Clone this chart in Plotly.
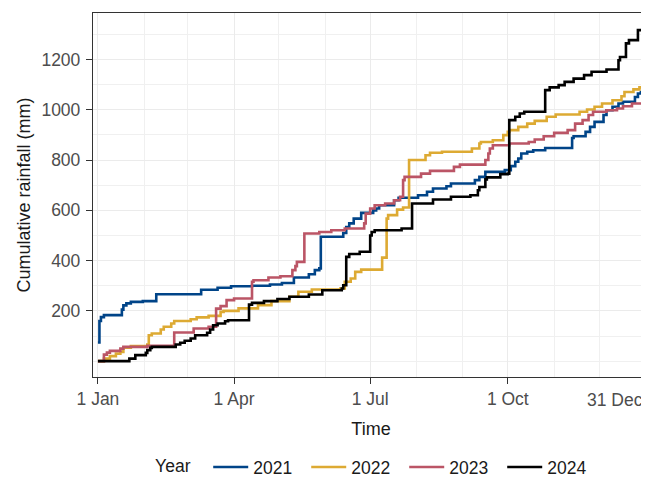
import pandas as pd
import plotly.graph_objects as go

# ---- data (day of year offset from 1 Jan, cumulative rainfall in mm) ----
years = ["2021", "2022", "2023", "2024"]
colors = ["#004488", "#DDAA33", "#BB5566", "#000000"]

day_2021 = [0, 1, 2, 4, 16, 17, 19, 22, 30, 39, 69, 80, 89, 103, 115, 123, 131, 141, 145, 148,
            149, 164, 166, 168, 171, 176, 184, 186, 188, 198, 201, 214, 220, 224, 233, 236, 252,
            255, 259, 272, 276, 279, 281, 283, 287, 291, 299, 317, 318, 326, 329, 332, 338, 340,
            344, 348, 351, 359, 361, 363, 365]
mm_2021 = [74, 160, 175, 183, 205, 222, 230, 236, 239, 266, 284, 292, 298, 300, 305, 311, 333, 346, 362, 369,
           495, 510, 534, 548, 567, 590, 600, 607, 620, 640, 650, 660, 674, 687, 696, 707, 720,
           733, 753, 760, 776, 793, 806, 826, 833, 839, 848, 888, 895, 912, 932, 952, 979, 998,
           1012, 1025, 1032, 1051, 1065, 1071, 1071]

day_2022 = [0, 4, 8, 12, 15, 17, 22, 33, 34, 36, 42, 44, 49, 51, 62, 66, 74, 82, 84, 94, 107, 116,
            128, 134, 143, 162, 165, 169, 172, 176, 190, 193, 194, 200, 204, 208, 219, 222, 230,
            250, 255, 256, 264, 271, 274, 275, 281, 287, 292, 300, 306, 322, 327, 332, 337, 344,
            350, 352, 358, 362, 365]
mm_2022 = [0, 10, 20, 30, 37, 54, 60, 66, 103, 110, 126, 137, 150, 160, 167, 174, 180, 196, 200, 210, 223, 239,
           256, 276, 285, 289, 316, 329, 355, 364, 412, 567, 581, 603, 611, 800, 819, 829, 833,
           846, 866, 872, 879, 899, 912, 919, 932, 945, 956, 972, 981, 992, 1001, 1012, 1025, 1038,
           1054, 1071, 1081, 1089, 1090]

day_2023 = [0, 4, 6, 8, 15, 17, 33, 51, 64, 74, 79, 82, 86, 91, 103, 104, 114, 122, 130, 132, 133,
            138, 148, 156, 165, 178, 179, 182, 185, 192, 198, 202, 204, 205, 216, 222, 238, 242,
            259, 261, 262, 264, 275, 288, 292, 298, 305, 314, 319, 324, 328, 331, 340, 347, 351,
            357, 365]
mm_2023 = [0, 26, 34, 41, 50, 57, 61, 114, 130, 137, 209, 219, 243, 249, 316, 322, 333, 338, 362, 378, 395,
           508, 514, 521, 528, 548, 587, 607, 620, 627, 640, 654, 720, 733, 746, 757, 773, 782,
           800, 826, 846, 859, 866, 872, 882, 895, 908, 919, 945, 959, 979, 992, 998, 1005, 1014,
           1025, 1025]

day_2024 = [0, 21, 25, 32, 33, 35, 36, 52, 55, 58, 62, 65, 73, 75, 77, 80, 85, 87, 101, 103, 111,
            120, 128, 141, 150, 163, 164, 166, 168, 175, 182, 183, 185, 203, 210, 224, 236, 249,
            254, 255, 259, 260, 269, 274, 275, 279, 282, 285, 299, 302, 308, 312, 318, 325, 330,
            340, 348, 349, 353, 355, 361, 364]
mm_2024 = [0, 10, 24, 33, 44, 53, 57, 66, 73, 81, 90, 103, 113, 126, 143, 150, 159, 163, 225, 232, 239,
           247, 256, 265, 282, 289, 302, 415, 426, 435, 500, 514, 521, 528, 627, 643, 654, 660,
           680, 693, 723, 731, 744, 746, 959, 972, 985, 992, 1078, 1089, 1098, 1111, 1124, 1138, 1151,
           1160, 1197, 1210, 1264, 1277, 1317, 1324]

x_tick_dates = ["2024-01-01", "2024-04-01", "2024-07-01", "2024-10-01", "2024-12-31"]
x_tick_labels = ["1 Jan", "1 Apr", "1 Jul", "1 Oct", "31 Dec"]
x_minor_dates = ["2024-02-01", "2024-03-01", "2024-05-01", "2024-06-01", "2024-08-01",
                 "2024-09-01", "2024-11-01", "2024-12-01"]
y_tick_vals = [200, 400, 600, 800, 1000, 1200]
y_minor_vals = [0, 100, 300, 500, 700, 900, 1100, 1300]

days = [day_2021, day_2022, day_2023, day_2024]
mms = [mm_2021, mm_2022, mm_2023, mm_2024]

base = pd.Timestamp("2024-01-01")
FONT = "Liberation Sans, Arial, sans-serif"

# last label is right-justified at its tick (as in the reference): drawn as an annotation
x_tick_text = x_tick_labels[:-1] + [""]

fig = go.Figure()
for yr, col, d, m in zip(years, colors, days, mms):
    fig.add_trace(go.Scatter(
        x=base + pd.to_timedelta(d, unit="D"), y=m, mode="lines", name=yr,
        line=dict(color=col, width=2.6, shape="hv"),
    ))

fig.add_annotation(
    x=x_tick_dates[-1], xref="x", y=0, yref="paper",
    text=x_tick_labels[-1], showarrow=False,
    xanchor="right", yanchor="middle", yshift=-23, xshift=1,
    font=dict(family=FONT, size=17.5, color="#4D4D4D"),
)

x_range = [base - pd.Timedelta(days=3.3), base + pd.Timedelta(days=368.4)]

# the page body adds an 8px offset; the figure is sized to fill the rest of the window
fig.update_layout(
    width=641, height=469,
    margin=dict(l=85, r=0, t=5, b=100, autoexpand=False),
    paper_bgcolor="white", plot_bgcolor="white",
    font=dict(family=FONT, size=17.5, color="#000000"),
    showlegend=True,
    legend=dict(
        orientation="h", x=0.511, xanchor="center",
        yref="container", y=0.021, yanchor="middle",
        title=dict(text="Year\u00a0\u00a0", font=dict(size=17.5, color="#1a1a1a")),
        font=dict(size=17.5, color="#1a1a1a"),
        itemwidth=35, entrywidth=48, entrywidthmode="pixels",
    ),
    xaxis=dict(
        type="date", range=x_range, automargin=False,
        tickmode="array", tickvals=x_tick_dates, ticktext=x_tick_text,
        tickfont=dict(size=17.5, color="#4D4D4D"),
        ticks="outside", ticklen=6, tickwidth=1.2, tickcolor="#333333",
        showline=True, mirror=True, linecolor="#333333", linewidth=1.3,
        showgrid=True, gridcolor="#EBEBEB", gridwidth=1,
        minor=dict(tickmode="array", tickvals=x_minor_dates, showgrid=True,
                   gridcolor="#F0F0F0", gridwidth=0.8, ticks=""),
        zeroline=False,
        title=dict(text="Time", font=dict(size=18, color="#1a1a1a"), standoff=14),
    ),
    yaxis=dict(
        range=[-63, 1385], automargin=False,
        tickmode="array", tickvals=y_tick_vals,
        tickfont=dict(size=17.5, color="#4D4D4D"),
        ticks="outside", ticklen=6, tickwidth=1.2, tickcolor="#333333",
        ticklabelstandoff=2,
        showline=True, mirror=False, linecolor="#333333", linewidth=1.3,
        showgrid=True, gridcolor="#EBEBEB", gridwidth=1,
        minor=dict(tickmode="array", tickvals=y_minor_vals, showgrid=True,
                   gridcolor="#F0F0F0", gridwidth=0.8, ticks=""),
        zeroline=False,
        title=dict(text="Cumulative rainfall (mm)", font=dict(size=18, color="#1a1a1a"), standoff=6),
    ),
)

fig.write_html("out.html")
